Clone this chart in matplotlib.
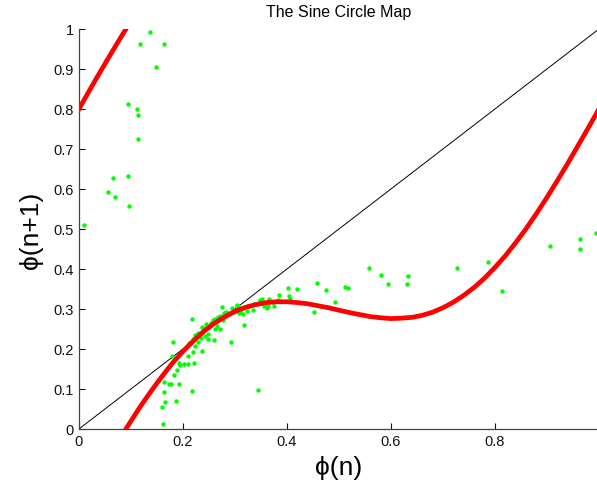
import matplotlib
matplotlib.use("Agg")
import matplotlib.pyplot as plt

# map curve (two branches, wraps at phi(n+1)=1)
curve_x1 = [0.0, 0.02, 0.04, 0.06, 0.08, 0.0903]
curve_y1 = [0.800, 0.846, 0.891, 0.935, 0.978, 1.0]
curve_x2 = [0.0903, 0.10, 0.12, 0.14, 0.16, 0.18, 0.20, 0.22, 0.24, 0.26, 0.28,
            0.30, 0.32, 0.34, 0.36, 0.38, 0.40, 0.42, 0.44, 0.46, 0.48, 0.50,
            0.52, 0.54, 0.56, 0.58, 0.60, 0.62, 0.64, 0.66, 0.68, 0.70, 0.72,
            0.74, 0.76, 0.78, 0.80, 0.82, 0.84, 0.86, 0.88, 0.90, 0.92, 0.94,
            0.96, 0.98, 1.00]
curve_y2 = [0.0, 0.020, 0.060, 0.097, 0.132, 0.165, 0.194, 0.220, 0.244, 0.264,
            0.280, 0.294, 0.304, 0.311, 0.316, 0.318, 0.318, 0.316, 0.313, 0.308,
            0.303, 0.297, 0.291, 0.286, 0.281, 0.278, 0.276, 0.277, 0.279, 0.284,
            0.292, 0.303, 0.317, 0.334, 0.354, 0.377, 0.404, 0.433, 0.466, 0.501,
            0.539, 0.579, 0.621, 0.664, 0.709, 0.754, 0.800]

# iterates (phi(n), phi(n+1))
pts_x = [0.1365, 0.117, 0.1635, 0.148, 0.094, 0.111, 0.113, 0.113, 0.066, 0.095,
         0.055, 0.070, 0.097, 0.010,
         0.4577, 0.475, 0.492, 0.452, 0.5115, 0.517, 0.558, 0.581, 0.594, 0.630,
         0.633, 0.727, 0.786, 0.801, 0.814, 0.906, 0.964, 0.964, 0.994,
         0.2199, 0.225, 0.2314, 0.236, 0.239, 0.243, 0.2475, 0.252, 0.255, 0.2596,
         0.265, 0.2686, 0.2725, 0.2776, 0.281, 0.285, 0.289, 0.2936, 0.298, 0.3033,
         0.307, 0.311, 0.3148, 0.3033, 0.305, 0.290, 0.2776, 0.266, 0.2615, 0.2487,
         0.2423, 0.2346, 0.2295, 0.223, 0.257, 0.271, 0.2827, 0.3096, 0.316,
         0.3237, 0.335, 0.348, 0.358, 0.361, 0.365, 0.3737, 0.375,
         0.4013, 0.4186, 0.385, 0.404, 0.406, 0.382, 0.352, 0.349, 0.364, 0.356,
         0.336, 0.3244, 0.304, 0.308, 0.3167, 0.293, 0.345, 0.2744, 0.2167, 0.1808,
         0.179, 0.2217, 0.209, 0.1917, 0.194, 0.188, 0.182, 0.164, 0.1725, 0.176,
         0.1923, 0.164, 0.218, 0.186, 0.165, 0.159, 0.162,
         0.260, 0.249, 0.2365, 0.219, 0.210, 0.237, 0.271, 0.2327, 0.2237, 0.201,
         0.212, 0.228, 0.245, 0.262, 0.278, 0.295, 0.283, 0.268, 0.253, 0.240]
pts_y = [0.993, 0.962, 0.963, 0.904, 0.8125, 0.800, 0.784, 0.725, 0.628, 0.632,
         0.593, 0.580, 0.5575, 0.511,
         0.364, 0.348, 0.317, 0.2925, 0.356, 0.3525, 0.402, 0.385, 0.3625, 0.3625,
         0.3825, 0.403, 0.417, 0.406, 0.344, 0.457, 0.474, 0.451, 0.491,
         0.225, 0.232, 0.2375, 0.242, 0.246, 0.250, 0.254, 0.258, 0.265, 0.268,
         0.2725, 0.277, 0.279, 0.282, 0.285, 0.2875, 0.290, 0.292, 0.293, 0.296,
         0.2975, 0.300, 0.302, 0.310, 0.307, 0.287, 0.273, 0.258, 0.250, 0.2375,
         0.232, 0.227, 0.217, 0.208, 0.273, 0.283, 0.2875, 0.292, 0.2875,
         0.295, 0.298, 0.323, 0.310, 0.303, 0.326, 0.318, 0.307,
         0.352, 0.349, 0.334, 0.333, 0.325, 0.322, 0.325, 0.317, 0.307, 0.307,
         0.312, 0.308, 0.308, 0.291, 0.260, 0.218, 0.0975, 0.304, 0.274, 0.2175,
         0.1825, 0.164, 0.1625, 0.166, 0.160, 0.1475, 0.136, 0.117, 0.1125, 0.1125,
         0.1125, 0.093, 0.094, 0.070, 0.067, 0.056, 0.012,
         0.222, 0.225, 0.194, 0.192, 0.183, 0.255, 0.250, 0.237, 0.236, 0.163,
         0.215, 0.240, 0.262, 0.276, 0.290, 0.303, 0.293, 0.280, 0.264, 0.249]

x_ticks = [0, 0.2, 0.4, 0.6, 0.8]
x_labels = ["0", "0.2", "0.4", "0.6", "0.8"]
y_ticks = [0, 0.1, 0.2, 0.3, 0.4, 0.5, 0.6, 0.7, 0.8, 0.9, 1]
y_labels = ["0", "0.1", "0.2", "0.3", "0.4", "0.5", "0.6", "0.7", "0.8", "0.9", "1"]

plt.rcParams['font.family'] = ['Liberation Sans', 'DejaVu Sans']

fig = plt.figure(figsize=(5.97, 4.89), dpi=100)
ax = fig.add_axes([0.1323, 0.1207, 0.871, 0.818])

ax.plot([0, 1], [0, 1], color='black', linewidth=0.7, zorder=1)
ax.plot(pts_x, pts_y, linestyle='none', marker='o', markersize=3.2,
        color=(0, 1, 0), markeredgewidth=0, zorder=2)
ax.plot(curve_x1, curve_y1, color='red', linewidth=3.4, zorder=3)
ax.plot(curve_x2, curve_y2, color='red', linewidth=3.4, zorder=3)

ax.set_xlim(0, 1)
ax.set_ylim(0, 1)
ax.set_xticks(x_ticks)
ax.set_xticklabels(x_labels)
ax.set_yticks(y_ticks)
ax.set_yticklabels(y_labels)
ax.tick_params(direction='in', length=4.5, width=0.8, labelsize=10.5, colors='#111111')
ax.spines['top'].set_visible(False)
ax.spines['right'].set_visible(False)
for s in ('left', 'bottom'):
    ax.spines[s].set_color('#444444')
    ax.spines[s].set_linewidth(0.9)

ax.set_title("The Sine Circle Map", fontsize=11.5, pad=9)
ax.set_xlabel("\u03d5(n)", fontsize=19, labelpad=5)
ax.set_ylabel("\u03d5(n+1)", fontsize=19, labelpad=8)

fig.savefig("out.png", dpi=100)
